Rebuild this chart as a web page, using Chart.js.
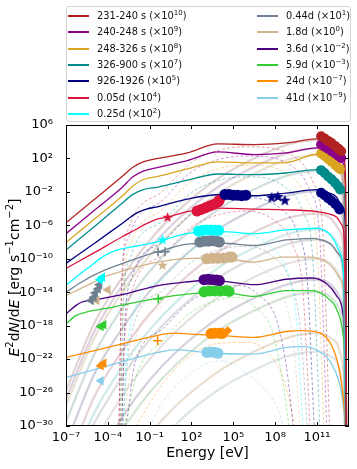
<!DOCTYPE html>
<html><head><meta charset="utf-8">
<script src="https://cdn.jsdelivr.net/npm/chart.js@4.4.0/dist/chart.umd.min.js"></script>
<style>
html,body{margin:0;padding:0;background:#fff;}
#wrap{position:relative;width:357px;height:469px;font-family:'DejaVu Sans',sans-serif;}
#sed{position:absolute;left:0;top:0;}
#legend{position:absolute;left:66px;top:6px;width:285px;height:116px;border:1px solid #d4d4d4;border-radius:3px;box-sizing:border-box;font-size:9.8px;color:#111;background:#fff;}
.item{position:absolute;height:14px;line-height:14px;white-space:nowrap;}
.item i{position:absolute;left:0;top:6px;width:21px;height:2px;}
.item span{position:absolute;left:29px;top:0;}
sup{font-size:7px;line-height:0;vertical-align:4px;}
</style></head>
<body>
<div id="wrap">
<canvas id="sed" width="357" height="469"></canvas>
<div id="legend"></div>
</div>
<script>
// epochs (legend order)
const epochNames = ['231-240 s','240-248 s','248-326 s','326-900 s','926-1926','0.05d','0.25d','0.44d','1.8d','3.6d','5.9d','24d','41d'];
const epochScale = [10,9,8,7,5,4,2,1,0,-2,-3,-7,-9];
const epochColors = ['#b22222','#8b008b','#daa520','#008b8b','#000080','#dc143c','#00ffff','#708090','#d2b48c','#4b0082','#32cd32','#ff8c00','#87ceeb'];

const xTickExp = [-7,-4,-1,2,5,8,11];
const yTickExp = [6,2,-2,-6,-10,-14,-18,-22,-26,-30];

// total model, [log10 E, log10 E^2dN/dE]
const m231 = [[-7,-5.7],[-5,-2.95],[-3,-0.2],[-2.2,0.95],[-1.5,1.55],[-0.4,2.0],[1.7,2.66],[3.9,3.74],[6.5,3.66],[8.8,3.86],[11,4.34],[11.8,4.05],[12.4,3.4],[12.85,2.5],[13.05,0],[13.12,-30]];
const m240 = [[-7,-7.0],[-5,-4.25],[-3,-1.5],[-2.2,-0.2],[-1.5,0.45],[-0.4,0.93],[1.7,1.75],[3.9,2.78],[6.5,2.46],[8.8,2.66],[11,3.26],[11.8,3.0],[12.4,2.4],[12.85,1.5],[13.05,-1],[13.12,-30]];
const m248 = [[-7,-8.05],[-5,-5.3],[-3,-2.55],[-2.2,-1.3],[-1.5,-0.55],[-0.4,-0.14],[1.7,0.75],[3.9,1.58],[6.5,1.46],[8.8,1.5],[11,2.5],[11.8,2.2],[12.4,1.6],[12.85,0.5],[13.05,-2],[13.12,-30]];
const m326 = [[-7,-8.95],[-5,-6.2],[-3,-3.4],[-2.2,-2.3],[-1.5,-1.75],[-0.4,-1.42],[1.7,-0.6],[3.9,0.14],[6.5,0.06],[8.8,0.26],[11,0.66],[11.8,0.3],[12.4,-0.4],[12.85,-1.6],[13.05,-4],[13.12,-30]];
const m926 = [[-7,-10.55],[-5,-8.2],[-3,-5.8],[-2,-4.6],[-1.3,-4.1],[-0.4,-3.75],[1.7,-2.86],[3.9,-2.34],[6.5,-2.46],[8.8,-2.14],[11,-1.74],[11.8,-2.1],[12.4,-2.6],[12.85,-3.9],[13.05,-6],[13.12,-30]];
const m005d = [[-7,-11.15],[-5,-9.3],[-3,-7.4],[-2,-6.5],[-1.3,-5.85],[-0.4,-5.22],[0.3,-5.02],[1.7,-4.35],[3.9,-3.94],[6.5,-4.06],[8.8,-4.14],[11,-4.35],[11.8,-4.6],[12.4,-5.0],[12.8,-6],[13.0,-9],[13.08,-30]];
const m025d = [[-7,-13.15],[-5.5,-11.2],[-4.2,-9.6],[-3.4,-9.0],[-2,-8.5],[-0.4,-7.95],[1.1,-7.2],[1.9,-6.94],[4.2,-6.75],[6.5,-7.0],[8.8,-6.55],[11,-6.35],[11.8,-6.9],[12.3,-8.0],[12.7,-9.5],[12.95,-13],[13.05,-30]];
const m044d = [[-7,-14.0],[-6,-12.9],[-5,-11.95],[-4,-11.2],[-2,-10.0],[-0.4,-9.15],[1.9,-8.22],[4.2,-8.14],[6.5,-8.4],[8.8,-7.75],[10.7,-7.55],[11.6,-7.9],[12.1,-8.4],[12.6,-9.5],[12.9,-11.5],[13.05,-30]];
const m18d = [[-7,-14.4],[-6,-13.6],[-5,-12.8],[-4.3,-12.2],[-3,-11.5],[-1.5,-10.8],[-0.4,-10.4],[1.9,-9.95],[4.2,-9.95],[6.5,-10.4],[8.5,-9.8],[10.5,-9.8],[11.6,-10.3],[12.2,-11.2],[12.7,-12.5],[12.95,-15],[13.05,-30]];
const m36d = [[-7,-16.6],[-6.3,-15.6],[-5.9,-15.2],[-4.9,-14.9],[-2.5,-14.1],[-0.4,-13.2],[1.5,-12.8],[3,-12.6],[4.3,-12.7],[6.5,-13.1],[8.8,-12.45],[10.7,-12.3],[11.7,-13.0],[12.4,-14.4],[12.85,-16.4],[13.0,-20],[13.08,-30]];
const m59d = [[-7,-17.8],[-6.3,-16.8],[-5.6,-16.4],[-3.7,-15.8],[-0.4,-14.7],[1.9,-14.2],[4.2,-14.0],[6.5,-14.5],[8.8,-13.8],[10.7,-13.8],[11.7,-14.6],[12.4,-16.0],[12.85,-18.8],[13.0,-22],[13.08,-30]];
const m24d = [[-7,-21.8],[-4,-20.6],[-0.4,-19.15],[0.8,-18.9],[1.9,-19.0],[4.2,-19.2],[6.5,-19.4],[8.8,-18.7],[10,-18.6],[11.1,-18.8],[12.0,-20.2],[12.6,-23.2],[12.9,-26.8],[13.05,-30]];
const m41d = [[-7,-24.2],[-4,-22.8],[-0.4,-21.2],[0.8,-20.9],[1.9,-21.0],[3.5,-21.3],[6.5,-21.4],[8.8,-20.6],[10,-20.5],[11.1,-21.0],[12.0,-22.4],[12.6,-24.8],[12.9,-27.5],[13.05,-30]];

// synchrotron components (dashed)
const s231 = [[-3.2,-30],[-3.0,-12.3],[-2.5,-6.3],[0,-1.8],[2,1.5],[4,3.0],[6,3.4],[9.4,2.2],[10.7,-0.8],[11.4,-6.3],[11.9,-30]];
const s240 = [[-3.2,-30],[-3.0,-13.4],[-2.5,-7.4],[0,-2.9],[2,0.4],[4,1.9],[6,2.3],[9.2,1.1],[10.5,-1.9],[11.2,-7.4],[11.7,-30]];
const s248 = [[-3.1,-30],[-2.9,-14.5],[-2.4,-8.5],[0,-4],[2,-0.7],[4,0.8],[6,1.2],[9,0],[10.3,-3],[11,-8.5],[11.5,-30]];
const s326 = [[-3.1,-30],[-2.9,-15.9],[-2.4,-9.9],[0,-5.4],[2,-2.1],[4,-0.6],[6,-0.2],[8.7,-1.4],[10,-4.4],[10.7,-9.9],[11.2,-30]];
const s926 = [[-3.0,-30],[-2.8,-18.4],[-2.3,-12.4],[0,-7.9],[2,-4.6],[4,-3.1],[6,-2.7],[8.3,-3.9],[9.6,-6.9],[10.3,-12.4],[10.8,-30]];
const s005d = [[-3.0,-30],[-2.8,-20],[-2.3,-14],[0,-9.5],[2,-6.2],[4,-4.7],[6,-4.3],[8,-5.5],[9.3,-8.5],[10,-14],[10.5,-30]];
const s025d = [[-2.9,-30],[-2.7,-22.8],[-2.2,-16.8],[0,-12.3],[2,-9],[4,-7.5],[6,-7.1],[7.5,-8.3],[8.8,-11.3],[9.5,-16.8],[10,-30]];
const s044d = [[-2.9,-30],[-2.7,-24.2],[-2.2,-18.2],[0,-13.7],[2,-10.4],[4,-8.9],[6,-8.5],[7.8,-9.7],[9.1,-12.7],[9.8,-18.2],[10.3,-30]];
const s18d = [[-2.8,-30],[-2.6,-26],[-2.1,-20],[0,-15.5],[2,-12.2],[4,-10.7],[6,-10.3],[7.3,-11.5],[8.6,-14.5],[9.3,-20],[9.8,-30]];
const s36d = [[-2.8,-30],[-2.6,-28.8],[-2.1,-22.8],[0,-18.3],[2,-15],[4,-13.5],[5.5,-13.2],[6.8,-14.3],[8.1,-17.3],[8.8,-22.8],[9.3,-30]];
const s59d = [[-2.7,-30],[-2.0,-24.2],[0,-19.7],[2,-16.4],[4,-14.9],[5.3,-14.6],[6.5,-15.7],[7.8,-18.7],[8.5,-24.2],[9.0,-30]];
const s24d = [[-2.0,-30],[0,-24.8],[2,-21.5],[4,-20.1],[6,-20.0],[7.3,-20.9],[8.5,-24],[9.1,-27.5],[9.4,-30]];
const s41d = [[-1.0,-30],[0,-27],[2,-23.6],[4,-22.2],[5,-22.6],[5.9,-23.7],[7.2,-25.5],[8.2,-28],[8.6,-30]];

// inverse Compton components (pale solid)
const c231 = [[-7,-25.8],[-5,-17.8],[-3,-12.3],[-1,-7.8],[1,-4.3],[4,-0.3],[7,2.4],[9,3.7],[11,4.2],[12,3.6],[12.6,2.2],[12.95,-1.8],[13.05,-30]];
const c240 = [[-7,-26.8],[-5,-18.8],[-3,-13.3],[-1,-8.8],[1,-5.3],[4,-1.3],[7,1.4],[9,2.7],[11,3.2],[12,2.6],[12.6,1.2],[12.95,-2.8],[13.05,-30]];
const c248 = [[-7,-27.6],[-5,-19.6],[-3,-14.1],[-1,-9.6],[1,-6.1],[4,-2.1],[7,0.6],[9,1.9],[11,2.4],[12,1.8],[12.6,0.4],[12.95,-3.6],[13.05,-30]];
const c326 = [[-7,-29.5],[-5,-21.5],[-3,-16],[-1,-11.5],[1,-8],[4,-4],[7,-1.3],[9,0],[11,0.5],[12,-0.1],[12.6,-1.5],[12.95,-5.5],[13.05,-30]];
const c926 = [[-6.5,-30],[-5,-23.9],[-3,-18.4],[-1,-13.9],[1,-10.4],[4,-6.4],[7,-3.7],[9,-2.4],[11,-1.9],[12,-2.5],[12.6,-3.9],[12.95,-7.9],[13.05,-30]];
const c005d = [[-5.85,-30],[-5,-26.6],[-3,-21.1],[-1,-16.6],[1,-13.1],[4,-9.1],[7,-6.4],[9,-5.1],[11,-4.6],[12,-5.2],[12.6,-6.6],[12.95,-10.6],[13.05,-30]];
const c025d = [[-5.4,-30],[-5,-28.5],[-3,-23],[-1,-18.5],[1,-15],[4,-11],[7,-8.3],[9,-7],[11,-6.5],[12,-7.1],[12.6,-8.5],[12.9,-12.5],[13.0,-30]];
const c044d = [[-5.1,-30],[-5,-29.7],[-3,-24.2],[-1,-19.7],[1,-16.2],[4,-12.2],[7,-9.5],[9,-8.2],[11,-7.7],[12,-8.3],[12.6,-9.7],[12.95,-13.7],[13.05,-30]];
const c18d = [[-4.3,-30],[-3,-26.5],[-1,-22],[1,-18.5],[4,-14.5],[7,-11.8],[9,-10.5],[11,-10],[12,-10.6],[12.6,-12],[12.95,-16],[13.05,-30]];
const c36d = [[-3.35,-30],[-3,-29],[-1,-24.5],[1,-21],[4,-17],[7,-14.3],[9,-13],[11,-12.5],[12,-13.1],[12.6,-14.5],[12.95,-18.5],[13.05,-30]];
const c59d = [[-2.8,-30],[-1,-26],[1,-22.5],[4,-18.5],[7,-15.8],[9,-14.5],[11,-14],[12,-14.6],[12.6,-16],[12.95,-20],[13.05,-30]];
const c24d = [[-0.5,-30],[1,-27.4],[4,-23.4],[7,-20.7],[9,-19.4],[11,-18.9],[12,-19.5],[12.6,-20.9],[12.95,-24.9],[13.05,-30]];
const c41d = [[0.8,-30],[1,-29.6],[4,-25.6],[7,-22.9],[9,-21.6],[11,-21.1],[12,-21.7],[12.6,-23.1],[12.9,-27],[13.0,-30]];

// observations
const vhe231 = [[11.3,4.65],[11.55,4.4],[11.8,4.1],[12.05,3.85],[12.3,3.5],[12.55,3.15],[12.74,2.85]];
const vhe240 = [[11.3,3.66],[11.55,3.4],[11.8,3.15],[12.05,2.85],[12.3,2.6],[12.55,2.3],[12.74,2.05]];
const vhe248 = [[11.3,2.6],[11.55,2.3],[11.8,1.95],[12.05,1.6],[12.3,1.25],[12.5,0.95],[12.66,0.7]];
const vhe326 = [[11.3,0.6],[11.55,0.25],[11.8,-0.15],[12.05,-0.5],[12.3,-0.9],[12.5,-1.3],[12.66,-1.7]];
const vhe926 = [[11.3,-2.1],[11.55,-2.4],[11.8,-2.75],[12.05,-3.05],[12.3,-3.4],[12.5,-3.75],[12.62,-4.1]];
const lat926 = [[7.75,-2.7],[8.2,-2.6],[8.7,-3.05]];
const xr926 = [[4.4,-2.3],[4.7,-2.3],[5.0,-2.4],[5.3,-2.4],[5.6,-2.45],[5.9,-2.4]];
const xr005d = [[2.4,-4.3],[2.7,-4.1],[3.0,-3.9],[3.3,-3.7],[3.6,-3.5],[3.9,-3.2],[4.0,-3.0]];
const xr025d = [[2.5,-6.7],[2.8,-6.6],[3.1,-6.55],[3.4,-6.55],[3.7,-6.6],[3.95,-6.6]];
const xr044d = [[2.6,-8.0],[2.9,-7.9],[3.2,-7.9],[3.5,-7.85],[3.8,-7.9],[4.0,-8.0]];
const xr18d = [[3.1,-10.0],[3.5,-9.95],[3.9,-9.95],[4.3,-9.9],[4.7,-9.8],[4.9,-9.8]];
const xr36d = [[2.9,-12.5],[3.2,-12.45],[3.5,-12.5],[3.8,-12.55],[4.0,-12.6]];
const xr59d = [[2.9,-13.95],[3.3,-13.85],[3.7,-13.85],[4.1,-13.85],[4.5,-13.8],[4.7,-13.9]];
const xr24d = [[3.4,-18.95],[3.7,-18.9],[4.0,-18.9],[4.2,-18.95]];
const xr24dHi = [[4.6,-18.6]];
const xr41d = [[3.1,-21.2],[3.4,-21.15],[3.7,-21.2],[3.9,-21.3]];
const opt005d = [[0.29,-5.07]];
const opt025d = [[-0.07,-7.75]];
const opt044d = [[-0.4,-9.2],[0.1,-9.15]];
const opt18d = [[-0.07,-10.8]];
const opt59d = [[-0.38,-14.8]];
const opt24d = [[-0.43,-19.8]];
const rad025d = [[-4.4,-12.2],[-4.55,-12.5]];
const rad044d = [[-4.6,-13.1],[-4.7,-13.6],[-4.9,-14.1],[-5.0,-14.6],[-5.2,-15.0]];
const rad18d = [[-4.0,-13.7],[-4.8,-15.0]];
const rad59d = [[-4.3,-17.9],[-4.5,-18.1]];
const rad24d = [[-4.3,-22.5],[-4.5,-22.8]];
const rad41d = [[-4.5,-24.6]];

const models = [m231,m240,m248,m326,m926,m005d,m025d,m044d,m18d,m36d,m59d,m24d,m41d];
const syncs = [s231,s240,s248,s326,s926,s005d,s025d,s044d,s18d,s36d,s59d,s24d,s41d];
const ics = [c231,c240,c248,c326,c926,c005d,c025d,c044d,c18d,c36d,c59d,c24d,c41d];

const FONT = "'DejaVu Sans', sans-serif";
const supMap = {'-':'⁻','0':'⁰','1':'¹','2':'²','3':'³','4':'⁴','5':'⁵','6':'⁶','7':'⁷','8':'⁸','9':'⁹'};
function pow10(v){ const e = Math.round(Math.log10(v)); return '10' + String(e).split('').map(c=>supMap[c]).join(''); }
function pts(arr){ return arr.map(p=>({x:Math.pow(10,p[0]), y:Math.pow(10,p[1])})); }
function rgba(hex,a,grey){
  const n=parseInt(hex.slice(1),16); let r=n>>16, g=(n>>8)&255, b=n&255;
  if(grey){ r=Math.round(r*(1-grey)+150*grey); g=Math.round(g*(1-grey)+150*grey); b=Math.round(b*(1-grey)+150*grey); }
  return 'rgba('+r+','+g+','+b+','+a+')';
}
function starImg(color,size){
  const c=document.createElement('canvas'); c.width=c.height=size;
  const g=c.getContext('2d'); g.fillStyle=color; g.beginPath();
  for(let k=0;k<10;k++){ const a=-Math.PI/2+k*Math.PI/5, r=(k%2?0.21:0.5)*size; g.lineTo(size/2+r*Math.cos(a), size/2+r*Math.sin(a)); }
  g.closePath(); g.fill(); return c;
}

// legend
const leg = document.getElementById('legend');
epochNames.forEach((name,i)=>{
  const col = i<7 ? 0 : 1, row = i<7 ? i : i-7;
  const d = document.createElement('div');
  d.className='item';
  d.style.left = (col ? 190 : 1) + 'px';
  d.style.top = (2 + row*16.3) + 'px';
  const ex = String(epochScale[i]).replace('-','−');
  d.innerHTML = '<i style="background:'+epochColors[i]+'"></i><span>'+name+' (×10<sup>'+ex+'</sup>)</span>';
  leg.appendChild(d);
});

const datasets = [];
ics.forEach((c,i)=>datasets.push({data:pts(c), borderColor:rgba(epochColors[i],0.3,0.65), borderWidth:2.2, pointRadius:0, cubicInterpolationMode:'monotone', order:30}));
syncs.forEach((c,i)=>datasets.push({data:pts(c), borderColor:rgba(epochColors[i],0.4), borderWidth:1, borderDash:[3,2], pointRadius:0, cubicInterpolationMode:'monotone', order:20}));
models.forEach((c,i)=>datasets.push({data:pts(c), borderColor:epochColors[i], borderWidth:1.3, pointRadius:0, cubicInterpolationMode:'monotone', order:10}));

function marks(arr, color, style, r, extra){
  datasets.push(Object.assign({data:pts(arr), showLine:false, pointStyle:style, pointRadius:r, pointBackgroundColor:color, pointBorderColor:color, pointBorderWidth:0, order:0}, extra||{}));
}
const C = epochColors;
[vhe231,vhe240,vhe248,vhe326,vhe926].forEach((a,i)=>marks(a, C[i], 'circle', 5));
marks(lat926, C[4], starImg(C[4],12), 6);
[[xr926,4],[xr005d,5],[xr025d,6],[xr044d,7],[xr18d,8],[xr36d,9],[xr59d,10],[xr24d,11],[xr41d,12]].forEach(p=>marks(p[0], C[p[1]], 'circle', 5.5));
marks(xr24dHi, C[11], 'rectRot', 4.5);
marks(opt005d, C[5], starImg(C[5],11), 5);
marks(opt025d, C[6], starImg(C[6],11), 5);
marks(opt18d, C[8], starImg(C[8],11), 5);
[[opt044d,7],[opt59d,10],[opt24d,11]].forEach(p=>marks(p[0], C[p[1]], 'cross', 4.5, {pointBorderWidth:1.6}));
[[rad025d,6],[rad044d,7],[rad18d,8],[rad59d,10],[rad24d,11],[rad41d,12]].forEach(p=>marks(p[0], C[p[1]], 'triangle', 5.5, {pointRotation:-90}));

const frame = {id:'frame', afterDraw(chart){
  const ctx=chart.ctx, a=chart.chartArea, sx=chart.scales.x, sy=chart.scales.y;
  ctx.save();
  ctx.strokeStyle='#000'; ctx.lineWidth=1;
  ctx.strokeRect(Math.round(a.left)+0.5, Math.round(a.top)+0.5, Math.round(a.width)-1, Math.round(a.height)-1);
  ctx.beginPath();
  xTickExp.forEach(e=>{ const p=Math.round(sx.getPixelForValue(Math.pow(10,e)))+0.5;
    ctx.moveTo(p,a.bottom); ctx.lineTo(p,a.bottom-4); ctx.moveTo(p,a.top); ctx.lineTo(p,a.top+4); });
  yTickExp.forEach(e=>{ const p=Math.round(sy.getPixelForValue(Math.pow(10,e)))+0.5;
    ctx.moveTo(a.left,p); ctx.lineTo(a.left+4,p); ctx.moveTo(a.right,p); ctx.lineTo(a.right-4,p); });
  ctx.stroke();
  // axis titles
  ctx.fillStyle='#000'; ctx.textBaseline='middle'; ctx.textAlign='center';
  ctx.font='14px '+FONT;
  ctx.fillText('Energy [eV]', (a.left+a.right)/2, 453);
  const segs=[['E',1,0],['2',0,1],['d',0,0],['N',1,0],['/d',0,0],['E',1,0],[' [erg s',0,0],['−1',0,1],['cm',0,0],['−2',0,1],[']',0,0]];
  const fontOf=s=>(s[1]?'italic ':'')+(s[2]?'10px ':'14px ')+FONT;
  let total=0; segs.forEach(s=>{ ctx.font=fontOf(s); total+=ctx.measureText(s[0]).width; });
  ctx.translate(15,(a.top+a.bottom)/2+2); ctx.rotate(-Math.PI/2); ctx.textAlign='left';
  let x=-total/2;
  segs.forEach(s=>{ ctx.font=fontOf(s); ctx.fillText(s[0], x, s[2]?-5:0); x+=ctx.measureText(s[0]).width; });
  ctx.restore();
}};

new Chart(document.getElementById('sed').getContext('2d'), {
  type:'line',
  data:{datasets},
  options:{
    responsive:false, animation:false,
    layout:{padding:{top:125, right:8, left:0, bottom:0}},
    plugins:{legend:{display:false}, tooltip:{enabled:false}},
    scales:{
      x:{type:'logarithmic', min:1e-7, max:2e13, grid:{display:false}, border:{display:false},
         ticks:{font:{family:FONT,size:13}, color:'#000', padding:-4, autoSkip:false, maxRotation:0, callback:v=>pow10(v)},
         afterBuildTicks:s=>{ s.ticks = xTickExp.map(e=>({value:Math.pow(10,e)})); },
         afterFit:s=>{ s.height=43; }},
      y:{type:'logarithmic', min:1e-30, max:1e6, grid:{display:false}, border:{display:false},
         ticks:{font:{family:FONT,size:13}, color:'#000', padding:5, autoSkip:false, callback:v=>pow10(v)},
         afterBuildTicks:s=>{ s.ticks = yTickExp.map(e=>({value:Math.pow(10,e)})); },
         afterFit:s=>{ s.width=66; }}
    }
  },
  plugins:[frame]
});
</script>
</body></html>
